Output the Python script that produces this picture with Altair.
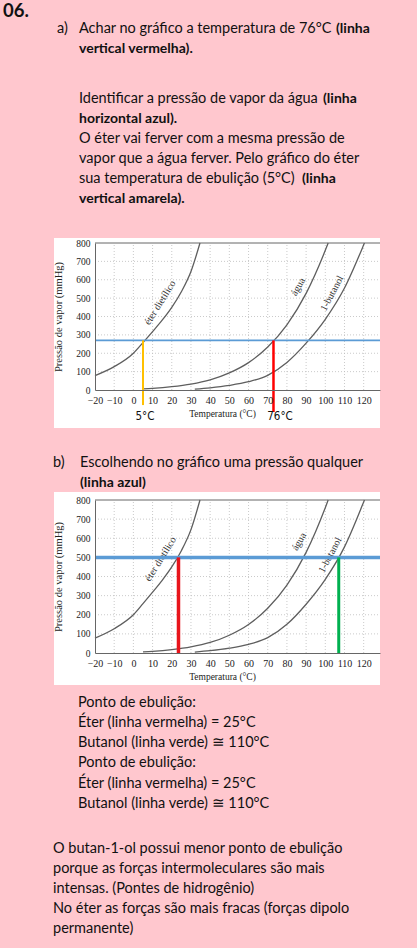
import altair as alt
import pandas as pd

# ---------------- data ----------------
eter_T = [-20, -10, 0, 5, 10, 15, 20, 25, 30, 34.7]
eter_P = [78, 127, 200, 258, 318, 380, 450, 535, 645, 800]
agua_T = [5, 10, 20, 30, 40, 50, 60, 70, 80, 90, 100, 101.5]
agua_P = [6, 9, 18, 32, 55, 93, 149, 234, 355, 526, 760, 800]
but_T = [32, 40, 50, 60, 70, 80, 90, 100, 110, 120, 120.4]
but_P = [5, 12, 25, 45, 80, 150, 255, 385, 555, 790, 800]

temp_ticks = list(range(-20, 121, 10))
press_ticks = list(range(0, 801, 100))
T_min, T_max = -20, 128.5
P_min, P_max = 0, 800

curve_names = ["éter dietílico", "água", "1-butanol"]
# label anchor (temperature, pressure) for each chart
lab_a_T = [13.9, 85.9, 103.5]
lab_a_P = [475, 562, 526]
lab_b_T = [14.2, 86.4, 102.5]
lab_b_P = [491, 582, 512]

# chart a) annotations
a_press = 270
a_T_eter = 5
a_T_agua = 73
a_low_eter = -82
a_low_agua = -120
# chart b) annotations
b_press = 500
b_T_eter = 23.5
b_T_but = 107

# ---------------- text ----------------
txt_a = [
    "Achar no gráfico a temperatura de 76°C",
    "Identificar a pressão de vapor da água",
    "O éter vai ferver com a mesma pressão de",
    "vapor que a água ferver. Pelo gráfico do éter",
    "sua temperatura de ebulição (5°C)",
]
txt_b = ["Escolhendo no gráfico uma pressão qualquer", "(linha azul)"]
txt_res = [
    "Ponto de ebulição:",
    "Éter (linha vermelha) = 25°C",
    "Butanol (linha verde) \u2245 110°C",
]
txt_end = [
    "O butan-1-ol possui menor ponto de ebulição",
    "porque as forças intermoleculares são mais",
    "intensas. (Pontes de hidrogênio)",
    "No éter as forças são mais fracas (forças dipolo",
    "permanente)",
]

W, H = 417, 948
PINK = "#FFC7CE"
SERIF = "Liberation Serif"
SANS = "Lato"
NARROW = "Liberation Sans Narrow, DejaVu Sans Condensed, Liberation Sans"
FS = 14.5

curves = pd.concat([
    pd.DataFrame({"T": eter_T, "P": eter_P, "nome": curve_names[0]}),
    pd.DataFrame({"T": agua_T, "P": agua_P, "nome": curve_names[1]}),
    pd.DataFrame({"T": but_T, "P": but_P, "nome": curve_names[2]}),
])
one = pd.DataFrame({"k": [0]})


def panel(yrange, lab_T, lab_P, hline_p, hline_w, vlines):
    xs = alt.Scale(domain=[T_min, T_max], range=[95, 380], nice=False, zero=False)
    ys = alt.Scale(domain=[P_min, P_max], range=yrange, nice=False, zero=False)
    xa = alt.Axis(orient="bottom", offset=yrange[0] - H, values=temp_ticks, ticks=False,
                  domain=True, domainColor="#666", domainWidth=1, grid=False, zindex=2,
                  labelFont=SERIF, labelFontSize=10, labelColor="#222", labelPadding=5,
                  labelFlush=False, labelOverlap=False, labelBound=False, format="d",
                  title="Temperatura (°C)", titleFont=SERIF, titleFontSize=9.5,
                  titleFontWeight="normal", titleColor="#222", titleX=222, titlePadding=3)
    ya = alt.Axis(orient="left", offset=-95, values=press_ticks, ticks=False,
                  domain=True, domainColor="#666", domainWidth=1, grid=False, zindex=2,
                  labelFont=SERIF, labelFontSize=9.5, labelColor="#222", labelPadding=5,
                  labelFlush=False, labelOverlap=False, format="d",
                  title="Pressão de vapor (mmHg)", titleFont=SERIF, titleFontSize=10.5,
                  titleFontWeight="normal", titleColor="#222", titleX=-32)

    def X(f):
        return alt.X(f, type="quantitative", scale=xs, axis=xa)

    def Y(f):
        return alt.Y(f, type="quantitative", scale=ys, axis=ya)

    gv = pd.DataFrame({"T": temp_ticks[1:]}).assign(p0=P_min, p1=P_max)
    gh = pd.DataFrame({"P": press_ticks[1:-1]}).assign(t0=T_min, t1=T_max)
    top = pd.DataFrame({"P": [P_max], "t0": [T_min], "t1": [T_max]})
    hl = pd.DataFrame({"P": [hline_p], "t0": [T_min], "t1": [T_max]})
    labs = pd.DataFrame({"T": lab_T, "P": lab_P, "nome": curve_names})

    layers = [
        alt.Chart(gv).mark_rule(color="#bdbdbd", strokeWidth=0.8, strokeDash=[1, 2])
        .encode(x=X("T"), y=Y("p0"), y2="p1"),
        alt.Chart(gh).mark_rule(color="#bdbdbd", strokeWidth=0.8, strokeDash=[1, 2])
        .encode(y=Y("P"), x=X("t0"), x2="t1"),
        alt.Chart(top).mark_rule(color="#666", strokeWidth=1)
        .encode(y=Y("P"), x=X("t0"), x2="t1"),
        alt.Chart(curves).mark_line(color="#5e5e5e", strokeWidth=1.3, interpolate="monotone")
        .encode(x=X("T"), y=Y("P"), detail="nome:N"),
    ]
    angles = [302, 300, 298]
    for i in range(3):
        layers.append(
            alt.Chart(labs.iloc[[i]]).mark_text(font=SERIF, fontSize=10, color="#333",
                                                angle=angles[i])
            .encode(x=X("T"), y=Y("P"), text="nome:N"))
    layers.append(alt.Chart(hl).mark_rule(color="#5B9BD5", strokeWidth=hline_w)
                  .encode(y=Y("P"), x=X("t0"), x2="t1"))
    for (t, ptop, pbot, col, w) in vlines:
        d = pd.DataFrame({"T": [t], "p0": [ptop], "p1": [pbot]})
        layers.append(alt.Chart(d).mark_rule(color=col, strokeWidth=w)
                      .encode(x=X("T"), y=Y("p0"), y2="p1"))
    return alt.layer(*layers)


def txt(s, x, y, size=FS, weight="normal", font=SANS, align="left", color="#111"):
    return alt.Chart(one).mark_text(text=s, align=align, baseline="alphabetic", font=font,
                                    fontSize=size, fontWeight=weight, color=color
                                    ).encode(x=alt.value(x), y=alt.value(y))


def box(x1, x2, y1, y2):
    return alt.Chart(one).mark_rect(color="white").encode(
        x=alt.value(x1), x2=alt.value(x2), y=alt.value(y1), y2=alt.value(y2))


chart_a = panel([390, 243], lab_a_T, lab_a_P, a_press, 1.6,
                [(a_T_eter, a_press, a_low_eter, "#FFC000", 2),
                 (a_T_agua, a_press, a_low_agua, "#FF0000", 2.5)])
chart_b = panel([653, 500], lab_b_T, lab_b_P, b_press, 3.5,
                [(b_T_eter, b_press, P_min, "#E8141B", 3.5),
                 (b_T_but, b_press, P_min, "#00B050", 3)])

texts = [
    txt("06.", 3, 17, size=18.5, weight="bold"),
    txt("a)", 57, 33),
    txt(txt_a[0], 79, 33),
    txt("(linha", 336, 33, size=14, weight="bold"),
    txt("vertical vermelha).", 79, 53, size=14, weight="bold"),
    txt(txt_a[1], 79, 103),
    txt("(linha", 323, 103, size=14, weight="bold"),
    txt("horizontal azul).", 79, 123, size=14, weight="bold"),
    txt(txt_a[2], 79, 143),
    txt(txt_a[3], 79, 163),
    txt(txt_a[4], 79, 183),
    txt("(linha", 302, 183, size=14, weight="bold"),
    txt("vertical amarela).", 79, 203, size=14, weight="bold"),
    txt("5°C", 145, 420, size=11.5, font=NARROW, align="center"),
    txt("76°C", 280, 420, size=11.5, font=NARROW, align="center"),
    txt("b)", 53, 467),
    txt(txt_b[0], 80, 467),
    txt(txt_b[1], 80, 487, size=14, weight="bold"),
]
ys_res = [707, 727, 747, 767, 788, 808]
for i, yy in enumerate(ys_res):
    texts.append(txt(txt_res[i % 3], 78, yy))
for i, yy in enumerate([853, 873, 893, 913, 933]):
    texts.append(txt(txt_end[i], 53, yy))

chart = alt.layer(
    box(54, 380, 238, 428),
    box(54, 380, 492, 685),
    chart_a,
    chart_b,
    *texts,
).resolve_scale(x="independent", y="independent").properties(
    width=W, height=H, padding=0, background=PINK,
    autosize=alt.AutoSizeParams(type="none"),
).configure_view(stroke=None)

chart.save("out.html", embed_options={"renderer": "svg", "actions": False})
